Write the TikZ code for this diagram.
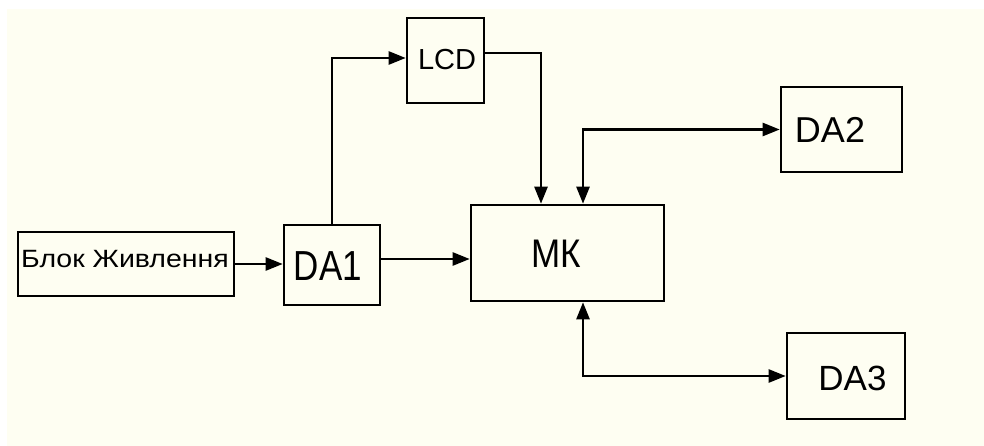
\documentclass[tikz,border=0pt]{standalone}
\usepackage{fontspec}
\setmainfont{Liberation Sans}
\usetikzlibrary{arrows.meta}
\definecolor{bgcream}{RGB}{254,254,242}
\begin{document}
\begin{tikzpicture}[x=1pt,y=-1pt,
  box/.style={draw=black,line width=2.6pt,rectangle,inner sep=0pt,fill=bgcream},
  lbl/.style={inner sep=0pt,anchor=base},
  arr/.style={line width=2.5pt,-{Triangle[length=17pt,width=13pt]}},
  arrtwo/.style={line width=2.5pt,{Triangle[length=17pt,width=13pt]}-{Triangle[length=17pt,width=13pt]}}]
\useasboundingbox (0,0) rectangle (984,446);
\fill[white] (0,0) rectangle (984,446);
\fill[bgcream] (7,9) rectangle (984,446);
\node[box,minimum width=216pt,minimum height=64pt] (blk) at (126,264) {};
\node[box,minimum width=96pt,minimum height=80pt] (da1) at (332,265) {};
\node[box,minimum width=77pt,minimum height=85pt] (lcd) at (445.5,60.5) {};
\node[box,minimum width=193pt,minimum height=96pt] (mk) at (567.5,253) {};
\node[box,minimum width=121pt,minimum height=85pt] (da2) at (841.5,129.5) {};
\node[box,minimum width=118pt,minimum height=86pt] (da3) at (846,376) {};
\node[lbl,font=\fontsize{25}{25}\selectfont] (tblk) at (125,267.5) {\scalebox{1.14}[1]{Блок Живлення}};
\node[lbl,font=\fontsize{35}{35}\selectfont] (tda1) at (328,280) {\scalebox{1}[1.2]{DA1}};
\node[lbl,font=\fontsize{29}{29}\selectfont] (tlcd) at (447,70) {LCD};
\node[lbl,font=\fontsize{35}{35}\selectfont] (tmk) at (556,267) {\scalebox{1}[1.14]{МК}};
\node[lbl,font=\fontsize{36}{36}\selectfont] (tda2) at (830,143) {DA2};
\node[lbl,font=\fontsize{35}{35}\selectfont] (tda3) at (852.5,390) {DA3};
\draw[arr] (blk.east) -- (blk.east -| da1.west);
\draw[arr] (da1.north) |- ([yshift=2.5pt]lcd.west);
\draw[arr] ([yshift=7.5pt]lcd.east) -| ([xshift=-26.5pt]mk.north);
\draw[arr] ([yshift=6pt]da1.east) -- ([yshift=6pt]da1.east -| mk.west);
\draw[arrtwo] ([xshift=15.5pt]mk.north) |- (da2.west);
\draw[arrtwo] ([xshift=15.5pt]mk.south) |- (da3.west);
\end{tikzpicture}
\end{document}
